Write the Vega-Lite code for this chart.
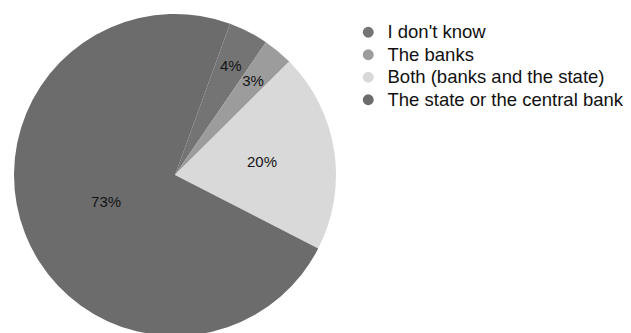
{
  "$schema": "https://vega.github.io/schema/vega-lite/v6.json",
  "width": 350,
  "height": 350,
  "padding": 0,
  "autosize": {"type": "pad"},
  "background": "white",
  "config": {"view": {"stroke": null}, "font": "Liberation Sans"},
  "data": {"values": [
    {"answer": "I don't know", "value": 4, "idx": 1, "label": "4%"},
    {"answer": "The banks", "value": 3, "idx": 2, "label": "3%"},
    {"answer": "Both (banks and the state)", "value": 20, "idx": 3, "label": "20%"},
    {"answer": "The state or the central bank", "value": 73, "idx": 4, "label": "73%"}
  ]},
  "encoding": {
    "theta": {"field": "value", "type": "quantitative", "stack": true, "scale": {"range": [0.349, 6.632]}},
    "order": {"field": "idx", "type": "quantitative"}
  },
  "layer": [
    {
      "mark": {"type": "arc", "outerRadius": 161},
      "encoding": {
        "color": {
          "field": "answer",
          "type": "nominal",
          "sort": null,
          "scale": {
            "domain": ["I don't know", "The banks", "Both (banks and the state)", "The state or the central bank"],
            "range": ["#747474", "#9c9c9c", "#d9d9d9", "#6c6c6c"]
          },
          "legend": {
            "title": null,
            "orient": "none",
            "legendX": 359,
            "legendY": 23,
            "labelFontSize": 18.5,
            "labelColor": "#111111",
            "labelLimit": 400,
            "labelOffset": 10,
            "symbolType": "circle",
            "symbolSize": 120,
            "symbolStrokeWidth": 0,
            "rowPadding": 3.5
          }
        }
      }
    },
    {
      "mark": {"type": "text", "radius": 74, "fontSize": 15, "color": "#141414"},
      "encoding": {"text": {"condition": {"test": "datum.value > 50", "field": "label"}, "value": ""}}
    },
    {
      "mark": {"type": "text", "radius": 88, "fontSize": 15, "color": "#141414"},
      "encoding": {"text": {"condition": {"test": "datum.value >= 10 && datum.value <= 50", "field": "label"}, "value": ""}}
    },
    {
      "mark": {"type": "text", "radius": 122, "fontSize": 15, "color": "#141414"},
      "encoding": {"text": {"condition": {"test": "datum.value < 10", "field": "label"}, "value": ""}}
    }
  ]
}
